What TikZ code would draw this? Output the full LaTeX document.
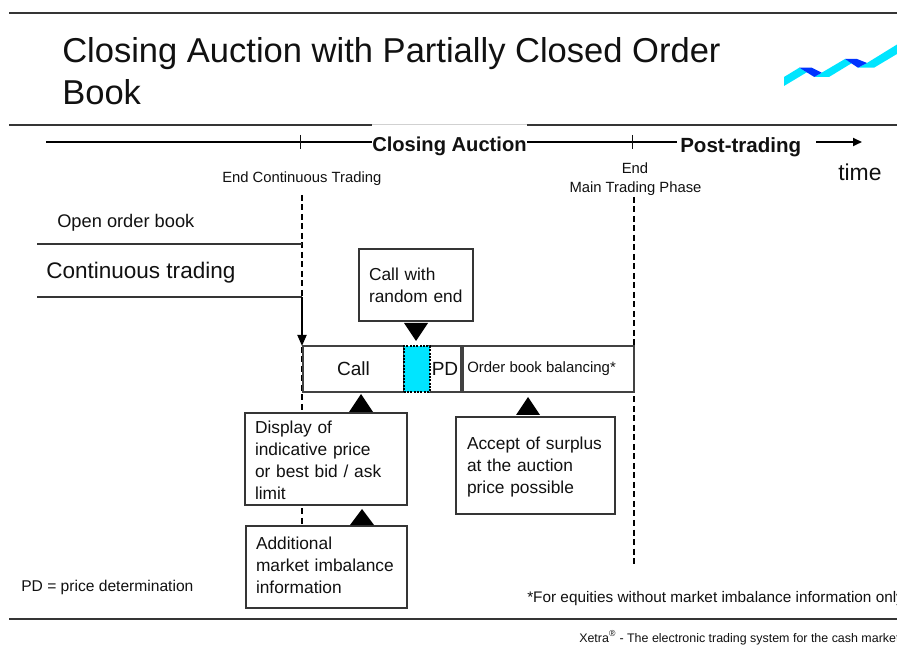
\documentclass[tikz,border=0pt]{standalone}
\usepackage{fontspec}
\setmainfont{Liberation Sans}
\usetikzlibrary{arrows.meta}
\def\px{0.75pt}
\newcommand{\fs}[2]{\fontsize{#1pt}{#2pt}\selectfont}
\definecolor{ink}{HTML}{111111}
\definecolor{logocyan}{HTML}{00E5FF}
\definecolor{logoblue}{HTML}{0033FF}
\tikzset{
  rule/.style={draw=ink!85,line width=1.3*\px},
  tline/.style={draw=black,line width=2*\px},
  tick/.style={draw=ink,line width=1*\px},
  dashline/.style={draw=black,line width=2.2*\px,dash pattern=on 6*\px off 3.5*\px},
  lbl/.style={inner sep=0pt,anchor=base west,text=ink},
  box/.style={draw=ink!85,fill=white,line width=1.3*\px,inner ysep=0pt,inner xsep=10*\px,align=left,text=ink},
  cell/.style={draw=ink!80,fill=white,line width=1.3*\px,inner sep=0pt,text=ink},
  tri/.style={fill=black,draw=none},
}
\begin{document}
\begin{tikzpicture}[x=0.75pt,y=-0.75pt]
\useasboundingbox (0,0) rectangle (897,652);
\clip (0,0) rectangle (897,652);
\fill[white] (0,0) rectangle (897,652);
% rules
\coordinate (r1a) at (9,13); \coordinate (r1b) at (897,13);
\coordinate (r2a) at (9,125); \coordinate (r2b) at (372,125); \coordinate (r2c) at (527,125); \coordinate (r2d) at (897,125);
\coordinate (r3a) at (9,619); \coordinate (r3b) at (897,619);
\draw[rule] (r1a) -- (r1b);
\draw[rule] (r2a) -- (r2b);
\draw[draw=black!18,line width=1*\px] (r2b) -- (r2c);
\draw[rule] (r2c) -- (r2d);
\draw[rule] (r3a) -- (r3b);
% title
\node[lbl,font=\fs{25.9}{31.5}] (title1) at (62,63) {Closing Auction with Partially Closed Order};
\node[lbl,font=\fs{25.9}{31.5}] (title2) at (62,105) {Book};
% logo
\fill[logocyan] (784,86)--(784,77)--(799.3,67.7)--(806.8,72.3)--cycle;
\fill[logocyan] (814.3,77)--(821.7,72.7)--(845,59)--(852,63)--(829,77)--cycle;
\fill[logocyan] (858,67.7)--(867,63)--(897,44.5)--(897,54)--(874,67.7)--cycle;
\fill[logoblue] (799.3,67.7)--(811.7,67.7)--(821.7,72.7)--(814.3,77)--cycle;
\fill[logoblue] (845,59)--(857,59)--(867,63)--(858,67.7)--cycle;
% timeline
\node[lbl,font=\bfseries\fs{15.1}{18}] (closing) at (372,152) {Closing Auction};
\node[lbl,font=\bfseries\fs{15.4}{18}] (post) at (680,153) {Post-trading};
\node[lbl,font=\fs{17.2}{20}] (time) at (838,181) {time};
\coordinate (tl0) at (46,142);
\coordinate (tl1) at (677,142);
\coordinate (tl2) at (816,142);
\coordinate (tl3) at (862,142);
\coordinate (t1a) at (300,135); \coordinate (t1b) at (300,149);
\coordinate (t2a) at (632,135); \coordinate (t2b) at (632,149);
\draw[tline] (tl0) -- (closing.west |- tl0);
\draw[tline] (closing.east |- tl0) -- (tl1);
\draw[tline,-{Triangle[length=9*\px,width=8*\px]}] (tl2) -- (tl3);
\draw[tick] (t1a) -- (t1b);
\draw[tick] (t2a) -- (t2b);
\node[lbl,font=\fs{11.1}{13}] (endct) at (222,183) {End Continuous Trading};
\node[inner sep=0pt,anchor=base,font=\fs{11.1}{13},text=ink] (endl) at (635,174) {End};
\node[inner sep=0pt,anchor=base,font=\fs{11.1}{13},text=ink] (mtp) at (635.5,193) {Main Trading Phase};
% verticals
\coordinate (d1a) at (302,195); \coordinate (d1b) at (302,526);
\coordinate (d2a) at (634,197); \coordinate (d2b) at (634,565);
\draw[dashline] (d1a) -- (d1b);
\draw[dashline] (d2a) -- (d2b);
% left labels
\node[lbl,font=\fs{13.7}{16}] (oob) at (57,228) {Open order book};
\node[lbl,font=\fs{16.9}{20}] (ct) at (46,279) {Continuous trading};
\coordinate (l1a) at (37,244); \coordinate (l1b) at (302,244);
\coordinate (l2a) at (37,297); \coordinate (l2b) at (302,297);
\coordinate (l3) at (302,346);
\draw[rule] (l1a) -- (l1b);
\draw[rule] (l2a) -- (l2b);
\draw[draw=black,line width=1.8*\px,-{Triangle[length=11*\px,width=9*\px]}] (l2b) -- (l3);
% auction row
\node[cell,minimum width=101*\px,minimum height=46*\px,font=\fs{14.3}{17}] (call) at (353.5,369) {\raisebox{-0.75pt}{Call}};
\node[cell,minimum width=32*\px,minimum height=46*\px,font=\fs{14.3}{17}] (pd) at (445,369) {\raisebox{-0.75pt}{PD}};
\node[draw=black,fill=logocyan,line width=2*\px,densely dotted,minimum width=26*\px,minimum height=46*\px,inner sep=0pt] (rnd) at (416.5,369) {};
\node[cell,minimum width=171*\px,minimum height=46*\px] (obb) at (548.5,369) {};
\node[lbl,font=\fs{11.2}{14}] (obbt) at (467,372.5) {Order book balancing*};
% boxes
\node[box,minimum width=114*\px,minimum height=72*\px,text width=94*\px,font=\fs{13}{16.5}] (crand) at (416,285) {Call with\\\mbox{random end}};
\node[box,minimum width=162*\px,minimum height=92*\px,text width=142*\px,font=\fs{13}{16.5}] (disp) at (326,459) {\rule{0pt}{10.9pt}Display of\\indicative price\\or best bid / ask\\limit};
\node[box,minimum width=161*\px,minimum height=82*\px,text width=141*\px,font=\fs{13}{16.5}] (add) at (326.5,567) {Additional\\market imbalance\\information\par\vspace{3pt}};
\node[box,minimum width=159*\px,minimum height=97*\px,text width=137*\px,font=\fs{13}{16.5},inner xsep=11*\px] (acc) at (535.5,465.5) {\rule{0pt}{12.4pt}Accept of surplus\\at the auction\\price possible};
% triangles
\fill[tri] (404,323)--(428,323)--(416,341)--cycle;
\fill[tri] (349,412)--(373,412)--(361,394)--cycle;
\fill[tri] (516,415)--(540,415)--(528,397)--cycle;
\fill[tri] (350,525)--(374,525)--(362,509)--cycle;
% notes
\node[lbl,font=\fs{11.7}{14}] (pdn) at (21,591) {PD = price determination};
\node[lbl,font=\fs{11.5}{14}] (foot) at (527,602) {*For equities without market imbalance information only};
\node[lbl,font=\fs{9.33}{11}] (xetra) at (579,642) {Xetra\textsuperscript{®} - The electronic trading system for the cash market};
\end{tikzpicture}
\end{document}
